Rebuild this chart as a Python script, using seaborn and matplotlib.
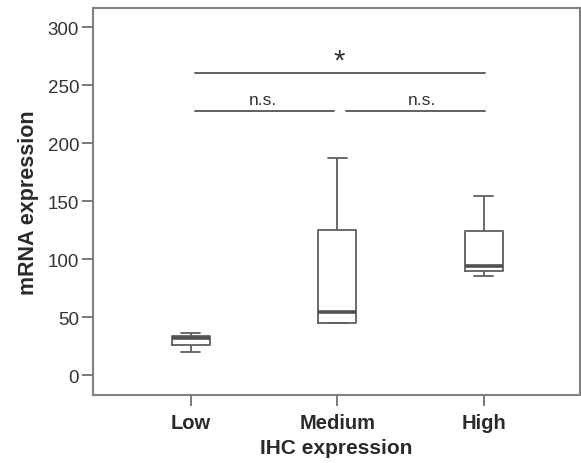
import matplotlib
matplotlib.use("Agg")
import matplotlib.pyplot as plt
import pandas as pd
import seaborn as sns

# five-number summaries (min, q1, median, q3, max)
groups = ["Low", "Medium", "High"]
low_vals = [20.0, 26.0, 31.5, 34.0, 36.5]
medium_vals = [44.5, 45.0, 54.6, 125.3, 186.8]
high_vals = [85.6, 89.7, 93.7, 124.0, 154.0]

y_ticks = [0, 50, 100, 150, 200, 250, 300]

df = pd.DataFrame({
    "group": [g for g, v in zip(groups, [low_vals, medium_vals, high_vals]) for _ in v],
    "value": low_vals + medium_vals + high_vals,
})

sns.set_style("white")
plt.rcParams['font.family'] = ['Liberation Sans', 'DejaVu Sans']

fig = plt.figure(figsize=(5.81, 4.64), dpi=100)
ax = fig.add_axes([0.160, 0.1466, 0.838, 0.834])

line_col = "#5f5f5f"
sns.boxplot(data=df, x="group", y="value", order=groups, ax=ax,
            whis=(0, 100), width=0.26, fill=False, color=line_col,
            linewidth=1.3,
            medianprops={"linewidth": 2.6, "color": "#505050"},
            showfliers=False)

ax.set_xlim(-0.666, 2.654)
ax.set_ylim(-17.2, 316.4)
ax.set_yticks(y_ticks)

for sp in ax.spines.values():
    sp.set_color("#808080")
    sp.set_linewidth(1.5)

ax.tick_params(axis="both", length=8, width=1.3, color="#707070",
               left=True, bottom=True)
ax.tick_params(axis="y", labelsize=13.5, labelcolor="#333333", pad=2)
ax.tick_params(axis="x", labelsize=14.5, labelcolor="#2a2a2a", pad=5)
for lbl in ax.get_xticklabels():
    lbl.set_fontweight("bold")

ax.set_xlabel("IHC expression", fontsize=15, fontweight="bold", color="#2a2a2a", labelpad=4)
ax.set_ylabel("mRNA expression", fontsize=15.5, fontweight="bold", color="#2a2a2a", labelpad=6)

# significance bars
sig_col = "#555555"
ax.plot([0.03, 2.01], [260.3, 260.3], color=sig_col, lw=1.3)
ax.plot([0.03, 0.98], [227.3, 227.3], color=sig_col, lw=1.3)
ax.plot([1.06, 2.01], [227.3, 227.3], color=sig_col, lw=1.3)
ax.text(1.01, 259, "*", ha="center", va="bottom", fontsize=21, color="#333333")
ax.text(0.49, 231, "n.s.", ha="center", va="bottom", fontsize=12.5, color="#333333")
ax.text(1.58, 231, "n.s.", ha="center", va="bottom", fontsize=12.5, color="#333333")

fig.savefig("out.png", dpi=100)
